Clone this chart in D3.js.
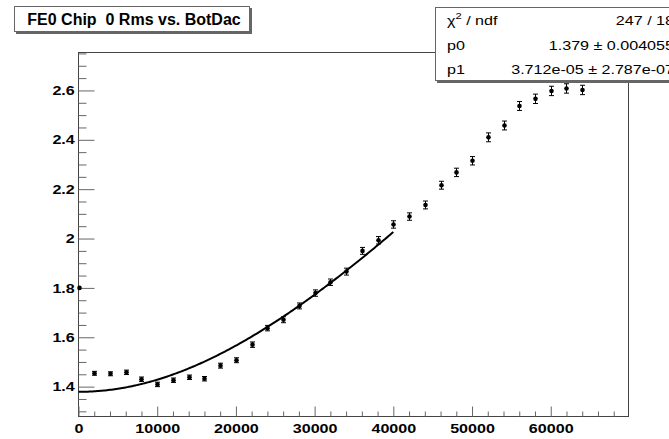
<!DOCTYPE html>
<html>
<head>
<meta charset="utf-8">
<script src="https://cdn.jsdelivr.net/npm/d3@7"></script>
<style>
  body { margin: 0; background: #fff; }
  svg { display: block; font-family: "Liberation Sans", Arial, sans-serif; }
  text { white-space: pre; }
</style>
</head>
<body>
<svg id="chart" width="669" height="439"></svg>
<script>
// BotDac settings and measured rms
const dacValues = [0, 2000, 4000, 6000, 8000, 10000, 12000, 14000, 16000, 18000, 20000,
  22000, 24000, 26000, 28000, 30000, 32000, 34000, 36000, 38000, 40000,
  42000, 44000, 46000, 48000, 50000, 52000, 54000, 56000, 58000, 60000, 62000, 64000];
const rmsValues = [1.800, 1.454, 1.452, 1.458, 1.430, 1.409, 1.426, 1.438, 1.432, 1.485, 1.507,
  1.570, 1.637, 1.671, 1.727, 1.779, 1.823, 1.866, 1.950, 1.993, 2.057,
  2.089, 2.136, 2.216, 2.268, 2.315, 2.410, 2.458, 2.537, 2.566, 2.598, 2.608, 2.602];
const rmsErrors = [0.002, 0.008, 0.008, 0.009, 0.009, 0.009, 0.009, 0.009, 0.009, 0.010, 0.010,
  0.011, 0.011, 0.012, 0.012, 0.013, 0.013, 0.014, 0.014, 0.015, 0.015,
  0.015, 0.016, 0.016, 0.017, 0.017, 0.018, 0.018, 0.018, 0.019, 0.019, 0.019, 0.019];

const xTicks = [0, 10000, 20000, 30000, 40000, 50000, 60000];
const yTicks = [1.4, 1.6, 1.8, 2, 2.2, 2.4, 2.6];

// fit result  sqrt(p0^2 + (p1*x)^2)
const fitP0 = 1.379, fitP1 = 3.712e-05, fitMax = 40000;
const statRows = [
  ["chi", "247 / 18"],
  ["p0", "1.379 \u00b1 0.004055"],
  ["p1", "3.712e-05 \u00b1 2.787e-07"]
];
const title = "FE0 Chip  0 Rms vs. BotDac";

const svg = d3.select("#chart");

const x = d3.scaleLinear().domain([0, 69880]).range([78.5, 628.5]);
const y = d3.scaleLinear().domain([1.279, 2.7537]).range([416.5, 52.5]);

// frame
svg.append("rect")
  .attr("x", 78.5).attr("y", 52.5)
  .attr("width", 550).attr("height", 364)
  .attr("fill", "none").attr("stroke", "#444");

const stretch = "scale(1.24,1)";

// X axis
const xMinor = d3.range(0, 70000, 2000).filter(d => d % 10000 !== 0);
svg.append("g")
  .attr("transform", "translate(0,416.5)")
  .call(d3.axisBottom(x).tickValues(xMinor).tickSize(-5).tickFormat(""))
  .call(g => g.select(".domain").remove())
  .selectAll("line").attr("stroke", "#666");
svg.append("g")
  .attr("transform", "translate(0,416.5)")
  .call(d3.axisBottom(x).tickValues(xTicks).tickSize(-10).tickPadding(7).tickFormat(d3.format("d")))
  .call(g => g.select(".domain").remove())
  .call(g => g.selectAll("line").attr("stroke", "#666"))
  .selectAll("text")
  .attr("font-family", "Liberation Sans, Arial, sans-serif")
  .attr("font-weight", "bold").attr("font-size", 13).attr("fill", "#000")
  .attr("transform", stretch);

// Y axis
const yMinor = d3.range(1.30, 2.76, 0.05).filter(v => Math.abs(v * 5 - Math.round(v * 5)) > 0.01);
svg.append("g")
  .attr("transform", "translate(78.5,0)")
  .call(d3.axisLeft(y).tickValues(yMinor).tickSize(-8).tickFormat(""))
  .call(g => g.select(".domain").remove())
  .selectAll("line").attr("stroke", "#666");
svg.append("g")
  .attr("transform", "translate(78.5,0)")
  .call(d3.axisLeft(y).tickValues(yTicks).tickSize(-16).tickPadding(3).tickFormat(d3.format("~g")))
  .call(g => g.select(".domain").remove())
  .call(g => g.selectAll("line").attr("stroke", "#666"))
  .selectAll("text")
  .attr("font-family", "Liberation Sans, Arial, sans-serif")
  .attr("font-weight", "bold").attr("font-size", 13).attr("fill", "#000")
  .attr("transform", stretch);

// error bars
const pts = dacValues.map((d, i) => ({ x: d, y: rmsValues[i], e: rmsErrors[i] }));
const eb = svg.append("g").attr("stroke", "#000").attr("stroke-width", 1);
pts.forEach(p => {
  const cx = Math.round(x(p.x)) + 0.5;
  const y1 = y(p.y + p.e), y2 = y(p.y - p.e);
  eb.append("line").attr("x1", cx).attr("x2", cx).attr("y1", y1).attr("y2", y2);
  if (p.e > 0.005) {
    eb.append("line").attr("x1", cx - 2.5).attr("x2", cx + 2.5).attr("y1", y1).attr("y2", y1);
    eb.append("line").attr("x1", cx - 2.5).attr("x2", cx + 2.5).attr("y1", y2).attr("y2", y2);
  }
});
svg.append("g").selectAll("circle")
  .data(pts).enter().append("circle")
  .attr("cx", d => Math.round(x(d.x)) + 0.5)
  .attr("cy", d => y(d.y))
  .attr("r", 2.3)
  .attr("fill", "#000");

// fit curve
const fitX = d3.range(0, fitMax + 1, 200);
svg.append("path")
  .datum(fitX)
  .attr("fill", "none").attr("stroke", "#000").attr("stroke-width", 2)
  .attr("d", d3.line().x(d => x(d)).y(d => y(Math.sqrt(fitP0 * fitP0 + (fitP1 * d) * (fitP1 * d)))));

// title box
svg.append("rect").attr("x", 16).attr("y", 8).attr("width", 236).attr("height", 26).attr("fill", "#666");
svg.append("rect").attr("x", 14.5).attr("y", 6.5).attr("width", 235).attr("height", 25)
  .attr("fill", "#fff").attr("stroke", "#666");
svg.append("text").attr("x", 134).attr("y", 25).attr("text-anchor", "middle")
  .attr("font-weight", "bold").attr("font-size", 16).text(title);

// stats box
svg.append("rect").attr("x", 437).attr("y", 9).attr("width", 260).attr("height", 74).attr("fill", "#666");
svg.append("rect").attr("x", 435.5).attr("y", 7.5).attr("width", 260).attr("height", 73)
  .attr("fill", "#fff").attr("stroke", "#666");
const st = svg.append("g").attr("font-size", 13).attr("fill", "#000");
statRows.forEach((r, i) => {
  const by = 25 + i * 24.5;
  const lab = st.append("text").attr("transform", `translate(447,${by}) ${stretch}`);
  if (r[0] === "chi") {
    lab.append("tspan").text("\u03c7");
    lab.append("tspan").attr("font-size", 9).attr("dy", -6).text("2");
    lab.append("tspan").attr("dy", 6).text(" / ndf");
  } else {
    lab.text(r[0]);
  }
  st.append("text").attr("transform", `translate(674,${by}) ${stretch}`)
    .attr("text-anchor", "end").text(r[1]);
});
</script>
</body>
</html>
